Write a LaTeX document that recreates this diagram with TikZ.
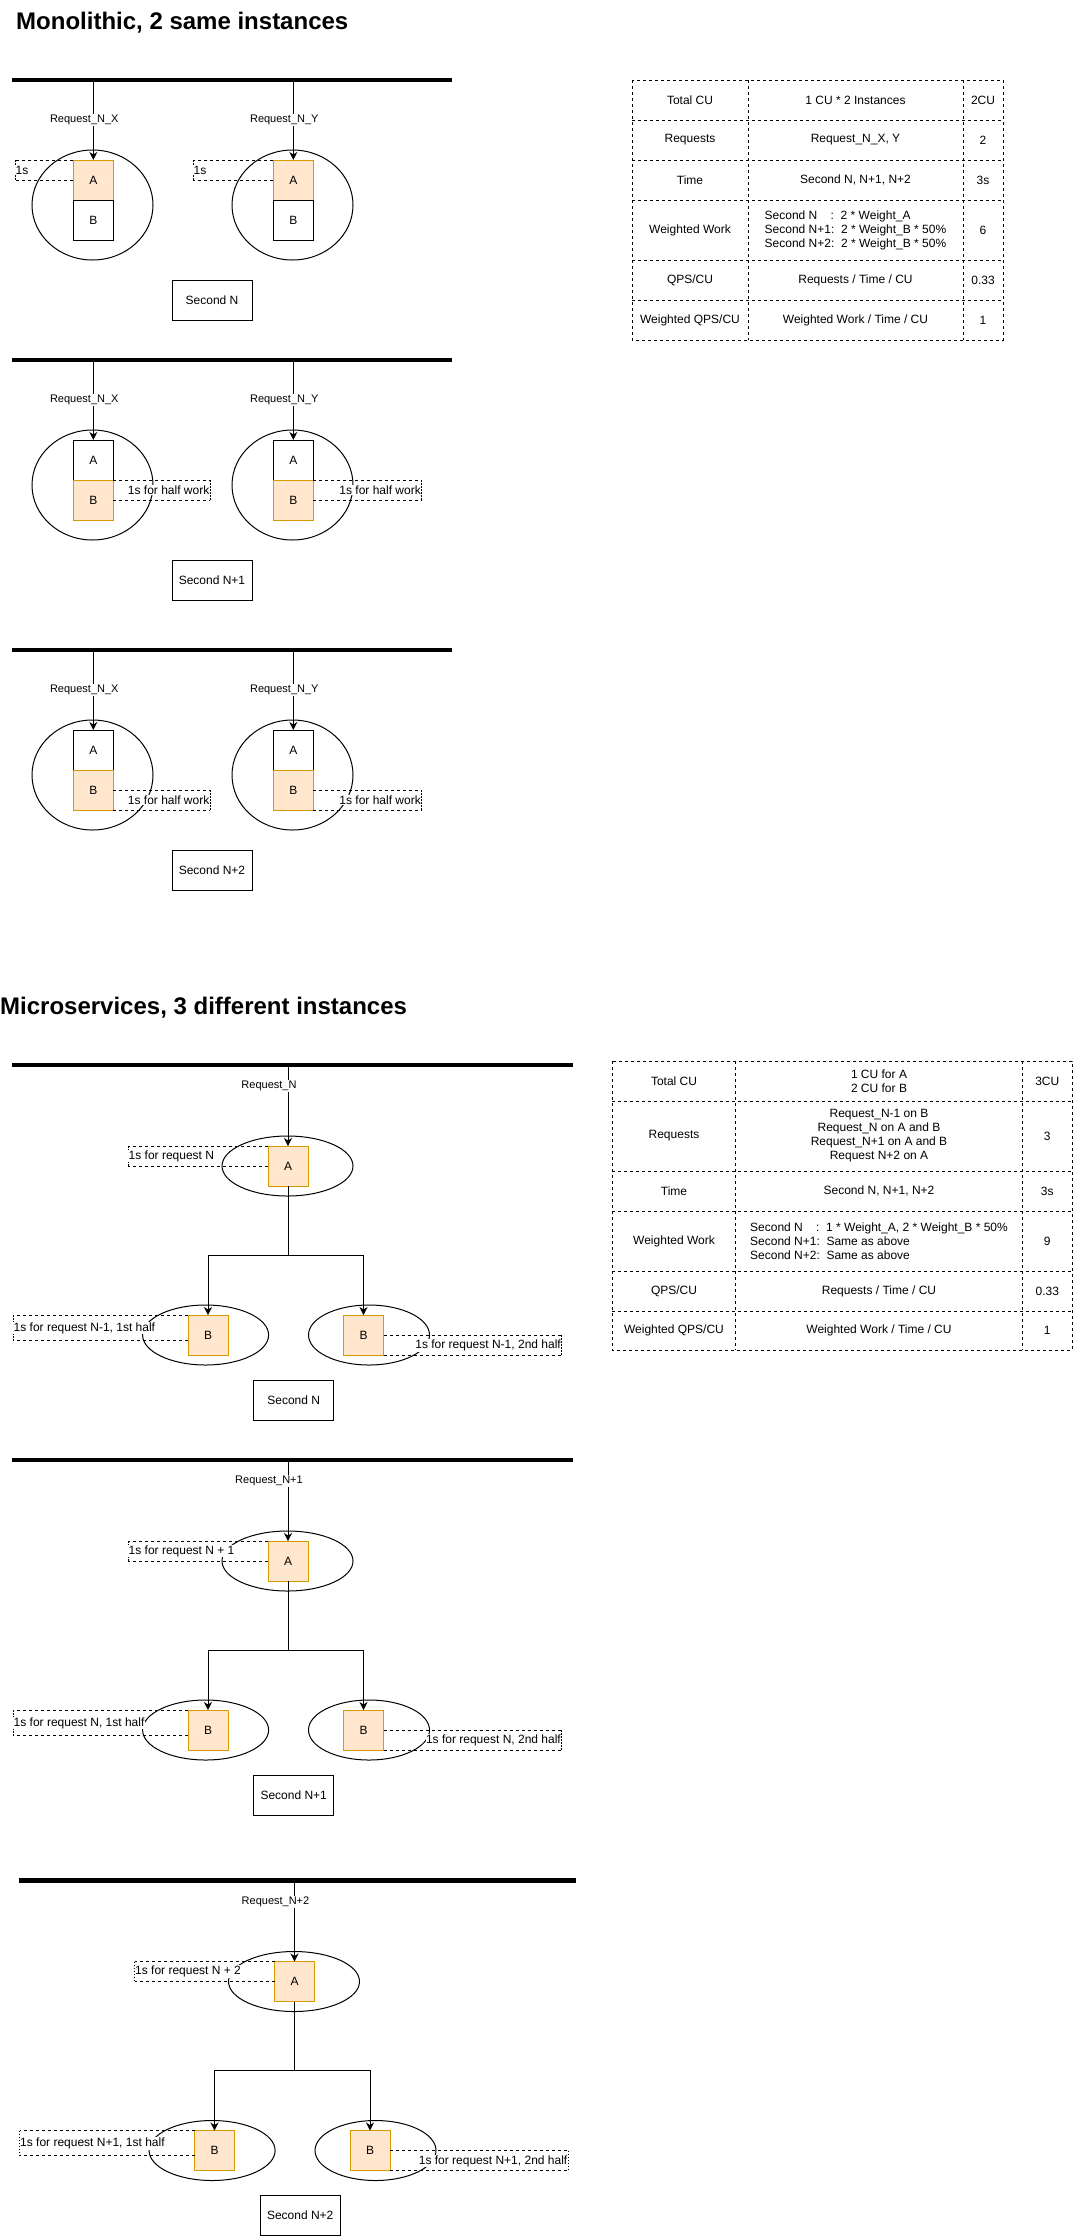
\documentclass[tikz,border=0pt]{standalone}
\usepackage{fontspec}
\setmainfont{Liberation Sans}
\usepackage{tikz}
\usetikzlibrary{arrows.meta,shapes.geometric,positioning}
\definecolor{NaranjaClaro}{RGB}{255,230,204}
\definecolor{NaranjaBorde}{RGB}{215,155,0}
\tikzset{
  bus/.style={line width=4.6pt},
  inst/.style={draw,ellipse,line width=1pt,inner sep=0pt},
  busy/.style={draw=NaranjaBorde,fill=NaranjaClaro,line width=1pt,minimum size=40pt,inner sep=0pt,outer sep=0pt},
  idle/.style={draw,fill=white,line width=1pt,minimum size=40pt,inner sep=0pt,outer sep=0pt},
  secbox/.style={draw,line width=1pt,minimum width=80pt,minimum height=40pt},
  req/.style={fill=white,inner sep=1pt,font=\fontsize{11}{13}\selectfont},
  flow/.style={->,line width=1pt},
  dimline/.style={line width=1pt,dash pattern=on 3pt off 3pt},
  dimend/.style={line width=0.6pt,dash pattern=on 1.5pt off 1.5pt},
  dimlbl/.style={fill=white,inner sep=0.5pt},
  tabline/.style={line width=1pt,dash pattern=on 3pt off 3pt},
  tabtxt/.style={align=center,inner sep=0pt},
  heading/.style={anchor=base west,inner sep=0pt,font=\fontsize{24}{28}\selectfont\bfseries}
}

\begin{document}
\begin{tikzpicture}[x=1pt,y=-1pt,>={Stealth[length=8pt,width=8pt,inset=2.5pt]},font=\fontsize{12}{14}\selectfont]
  \useasboundingbox (0,0) rectangle (1073,2236);

  \node[heading] (t1) at (16,29.5) {Monolithic, 2 same instances};

  \draw[bus] (12,80) -- (452,80);
  \coordinate (r1l) at (93.3,80);
  \coordinate (r1r) at (293.3,80);
  \node[inst,minimum width=121pt,minimum height=110pt] (e1l) at (92.5,205) {};
  \node[inst,minimum width=121pt,minimum height=110pt] (e1r) at (292.5,205) {};
  \node[busy] (a1l) at (93.3,180) {A};
  \node[idle,below=0pt of a1l] (b1l) {B};
  \node[busy] (a1r) at (293.3,180) {A};
  \node[idle,below=0pt of a1r] (b1r) {B};
  \draw[flow] (r1l) -- node[req,xshift=-9pt] (q1l) {Request\_N\_X} (a1l);
  \draw[flow] (r1r) -- node[req,xshift=-9pt] (q1r) {Request\_N\_Y} (a1r);
  \coordinate (m1l) at (15,170);
  \coordinate (m1r) at (193,170);
  \draw[dimline] (a1l.north west) -- (a1l.north west -| m1l);
  \draw[dimline] (a1l.west) -- (a1l.west -| m1l);
  \draw[dimend] (a1l.north west -| m1l) -- (a1l.west -| m1l);
  \node[dimlbl,anchor=west] (w1l) at (m1l) {1s};
  \draw[dimline] (a1r.north west) -- (a1r.north west -| m1r);
  \draw[dimline] (a1r.west) -- (a1r.west -| m1r);
  \draw[dimend] (a1r.north west -| m1r) -- (a1r.west -| m1r);
  \node[dimlbl,anchor=west] (w1r) at (m1r) {1s};
  \node[secbox] (s1) at (212,300) {Second N};

  \begin{scope}[shift={(0,280)}]
  \draw[bus] (12,80) -- (452,80);
  \coordinate (r2l) at (93.3,80);
  \coordinate (r2r) at (293.3,80);
  \node[inst,minimum width=121pt,minimum height=110pt] (e2l) at (92.5,205) {};
  \node[inst,minimum width=121pt,minimum height=110pt] (e2r) at (292.5,205) {};
  \node[idle] (a2l) at (93.3,180) {A};
  \node[busy,below=0pt of a2l] (b2l) {B};
  \node[idle] (a2r) at (293.3,180) {A};
  \node[busy,below=0pt of a2r] (b2r) {B};
  \draw[flow] (r2l) -- node[req,xshift=-9pt] (q2l) {Request\_N\_X} (a2l);
  \draw[flow] (r2r) -- node[req,xshift=-9pt] (q2r) {Request\_N\_Y} (a2r);
  \coordinate (m2l) at (210,210);
  \coordinate (m2r) at (421.5,210);
  \draw[dimline] (b2l.north east) -- (b2l.north east -| m2l);
  \draw[dimline] (b2l.east) -- (b2l.east -| m2l);
  \draw[dimend] (b2l.north east -| m2l) -- (b2l.east -| m2l);
  \node[dimlbl,anchor=east] (w2l) at (m2l) {1s for half work};
  \draw[dimline] (b2r.north east) -- (b2r.north east -| m2r);
  \draw[dimline] (b2r.east) -- (b2r.east -| m2r);
  \draw[dimend] (b2r.north east -| m2r) -- (b2r.east -| m2r);
  \node[dimlbl,anchor=east] (w2r) at (m2r) {1s for half work};
  \node[secbox] (s2) at (212,300) {Second N+1};
  \end{scope}

  \begin{scope}[shift={(0,570)}]
  \draw[bus] (12,80) -- (452,80);
  \coordinate (r3l) at (93.3,80);
  \coordinate (r3r) at (293.3,80);
  \node[inst,minimum width=121pt,minimum height=110pt] (e3l) at (92.5,205) {};
  \node[inst,minimum width=121pt,minimum height=110pt] (e3r) at (292.5,205) {};
  \node[idle] (a3l) at (93.3,180) {A};
  \node[busy,below=0pt of a3l] (b3l) {B};
  \node[idle] (a3r) at (293.3,180) {A};
  \node[busy,below=0pt of a3r] (b3r) {B};
  \draw[flow] (r3l) -- node[req,xshift=-9pt] (q3l) {Request\_N\_X} (a3l);
  \draw[flow] (r3r) -- node[req,xshift=-9pt] (q3r) {Request\_N\_Y} (a3r);
  \coordinate (m3l) at (210,230);
  \coordinate (m3r) at (421.5,230);
  \draw[dimline] (b3l.east) -- (b3l.east -| m3l);
  \draw[dimline] (b3l.south east) -- (b3l.south east -| m3l);
  \draw[dimend] (b3l.east -| m3l) -- (b3l.south east -| m3l);
  \node[dimlbl,anchor=east] (w3l) at (m3l) {1s for half work};
  \draw[dimline] (b3r.east) -- (b3r.east -| m3r);
  \draw[dimline] (b3r.south east) -- (b3r.south east -| m3r);
  \draw[dimend] (b3r.east -| m3r) -- (b3r.south east -| m3r);
  \node[dimlbl,anchor=east] (w3r) at (m3r) {1s for half work};
  \node[secbox] (s3) at (212,300) {Second N+2};
  \end{scope}

  \draw[tabline] (632,80) rectangle (1003,340);
  \draw[tabline] (748,80) -- (748,340) (963,80) -- (963,340);
  \draw[tabline] (632,120) -- (1003,120) (632,160) -- (1003,160) (632,200) -- (1003,200)
    (632,260) -- (1003,260) (632,300) -- (1003,300);
  \node[tabtxt] (k1a) at (690,100) {Total CU};
  \node[tabtxt] (k1b) at (855.5,100) {1 CU * 2 Instances};
  \node[tabtxt] (k1c) at (983,100) {2CU};
  \node[tabtxt] (k2a) at (690,140) {Requests};
  \node[tabtxt] (k2b) at (855.5,140) {Request\_N\_X, Y};
  \node[tabtxt] (k2c) at (983,140) {2};
  \node[tabtxt] (k3a) at (690,180) {Time};
  \node[tabtxt] (k3b) at (855.5,180) {Second N, N+1, N+2};
  \node[tabtxt] (k3c) at (983,180) {3s};
  \node[tabtxt] (k4a) at (690,230) {Weighted Work};
  \node[tabtxt,align=left] (k4b) at (855.5,230) {Second N\hspace{13.3pt}:\ \ 2 * Weight\_A\\Second N+1:\ \ 2 * Weight\_B * 50\%\\Second N+2:\ \ 2 * Weight\_B * 50\%};
  \node[tabtxt] (k4c) at (983,230) {6};
  \node[tabtxt] (k5a) at (690,280) {QPS/CU};
  \node[tabtxt] (k5b) at (855.5,280) {Requests / Time / CU};
  \node[tabtxt] (k5c) at (983,280) {0.33};
  \node[tabtxt] (k6a) at (690,320) {Weighted QPS/CU};
  \node[tabtxt] (k6b) at (855.5,320) {Weighted Work / Time / CU};
  \node[tabtxt] (k6c) at (983,320) {1};

  \node[heading] (t2) at (0,1014) {Microservices, 3 different instances};

  \draw[bus] (12,1065) -- (573,1065);
  \coordinate (r4) at (288,1065);
  \node[inst,minimum width=131pt,minimum height=60pt] (e4) at (287.5,1166) {};
  \node[inst,minimum width=126pt,minimum height=60pt] (e4l) at (205.6,1335) {};
  \node[inst,minimum width=121pt,minimum height=60pt] (e4r) at (369,1335) {};
  \node[busy] (a4) at (288,1166) {A};
  \node[busy] (b4l) at (208,1335) {B};
  \node[busy] (b4r) at (363.5,1335) {B};
  \coordinate (j4) at (288,1255);
  \draw[flow] (r4) -- node[req,pos=0.26,xshift=-19pt] (q4) {Request\_N} (a4);
  \draw[flow] (a4) -- (j4) -| (b4l);
  \draw[flow] (a4) -- (j4) -| (b4r);
  \coordinate (m4) at (128,1156);
  \coordinate (m4l) at (13,1328);
  \coordinate (m4r) at (561.5,1345.5);
  \draw[dimline] (a4.north west) -- (a4.north west -| m4);
  \draw[dimline] (a4.west) -- (a4.west -| m4);
  \draw[dimend] (a4.north west -| m4) -- (a4.west -| m4);
  \node[dimlbl,anchor=west] (w4) at (m4) {1s for request N};
  \draw[dimline] (b4l.north west) -- (b4l.north west -| m4l);
  \draw[dimline] ([yshift=-5pt]b4l.west) -- ([yshift=-5pt]b4l.west -| m4l);
  \draw[dimend] (b4l.north west -| m4l) -- ([yshift=-5pt]b4l.west -| m4l);
  \node[dimlbl,anchor=west] (w4l) at (m4l) {1s for request N-1, 1st half};
  \draw[dimline] (b4r.east) -- (b4r.east -| m4r);
  \draw[dimline] (b4r.south east) -- (b4r.south east -| m4r);
  \draw[dimend] (b4r.east -| m4r) -- (b4r.south east -| m4r);
  \node[dimlbl,anchor=east] (w4r) at (m4r) {1s for request N-1, 2nd half};
  \node[secbox] (s4) at (293.7,1400) {Second N};

  \begin{scope}[shift={(0,395)}]
  \draw[bus] (12,1065) -- (573,1065);
  \coordinate (r5) at (288,1065);
  \node[inst,minimum width=131pt,minimum height=60pt] (e5) at (287.5,1166) {};
  \node[inst,minimum width=126pt,minimum height=60pt] (e5l) at (205.6,1335) {};
  \node[inst,minimum width=121pt,minimum height=60pt] (e5r) at (369,1335) {};
  \node[busy] (a5) at (288,1166) {A};
  \node[busy] (b5l) at (208,1335) {B};
  \node[busy] (b5r) at (363.5,1335) {B};
  \coordinate (j5) at (288,1255);
  \draw[flow] (r5) -- node[req,pos=0.26,xshift=-19pt] (q5) {Request\_N+1} (a5);
  \draw[flow] (a5) -- (j5) -| (b5l);
  \draw[flow] (a5) -- (j5) -| (b5r);
  \coordinate (m5) at (128,1156);
  \coordinate (m5l) at (13,1328);
  \coordinate (m5r) at (561.5,1345.5);
  \draw[dimline] (a5.north west) -- (a5.north west -| m5);
  \draw[dimline] (a5.west) -- (a5.west -| m5);
  \draw[dimend] (a5.north west -| m5) -- (a5.west -| m5);
  \node[dimlbl,anchor=west] (w5) at (m5) {1s for request N + 1};
  \draw[dimline] (b5l.north west) -- (b5l.north west -| m5l);
  \draw[dimline] ([yshift=-5pt]b5l.west) -- ([yshift=-5pt]b5l.west -| m5l);
  \draw[dimend] (b5l.north west -| m5l) -- ([yshift=-5pt]b5l.west -| m5l);
  \node[dimlbl,anchor=west] (w5l) at (m5l) {1s for request N, 1st half};
  \draw[dimline] (b5r.east) -- (b5r.east -| m5r);
  \draw[dimline] (b5r.south east) -- (b5r.south east -| m5r);
  \draw[dimend] (b5r.east -| m5r) -- (b5r.south east -| m5r);
  \node[dimlbl,anchor=east] (w5r) at (m5r) {1s for request N, 2nd half};
  \node[secbox] (s5) at (293.7,1400) {Second N+1};
  \end{scope}

  \begin{scope}[shift={(6.5,815.5)}]
  \draw[bus] (12,1065) -- (569,1065);
  \coordinate (r6) at (288,1065);
  \node[inst,minimum width=131pt,minimum height=60pt] (e6) at (287.5,1166) {};
  \node[inst,minimum width=126pt,minimum height=60pt] (e6l) at (205.6,1335) {};
  \node[inst,minimum width=121pt,minimum height=60pt] (e6r) at (369,1335) {};
  \node[busy] (a6) at (288,1166) {A};
  \node[busy] (b6l) at (208,1335) {B};
  \node[busy] (b6r) at (363.5,1335) {B};
  \coordinate (j6) at (288,1255);
  \draw[flow] (r6) -- node[req,pos=0.26,xshift=-19pt] (q6) {Request\_N+2} (a6);
  \draw[flow] (a6) -- (j6) -| (b6l);
  \draw[flow] (a6) -- (j6) -| (b6r);
  \coordinate (m6) at (128,1156);
  \coordinate (m6l) at (13,1328);
  \coordinate (m6r) at (561.5,1345.5);
  \draw[dimline] (a6.north west) -- (a6.north west -| m6);
  \draw[dimline] (a6.west) -- (a6.west -| m6);
  \draw[dimend] (a6.north west -| m6) -- (a6.west -| m6);
  \node[dimlbl,anchor=west] (w6) at (m6) {1s for request N + 2};
  \draw[dimline] (b6l.north west) -- (b6l.north west -| m6l);
  \draw[dimline] ([yshift=-5pt]b6l.west) -- ([yshift=-5pt]b6l.west -| m6l);
  \draw[dimend] (b6l.north west -| m6l) -- ([yshift=-5pt]b6l.west -| m6l);
  \node[dimlbl,anchor=west] (w6l) at (m6l) {1s for request N+1, 1st half};
  \draw[dimline] (b6r.east) -- (b6r.east -| m6r);
  \draw[dimline] (b6r.south east) -- (b6r.south east -| m6r);
  \draw[dimend] (b6r.east -| m6r) -- (b6r.south east -| m6r);
  \node[dimlbl,anchor=east] (w6r) at (m6r) {1s for request N+1, 2nd half};
  \node[secbox] (s6) at (293.7,1400) {Second N+2};
  \end{scope}

  \draw[tabline] (612.3,1061) rectangle (1072.3,1350);
  \draw[tabline] (735.7,1061) -- (735.7,1350) (1022.3,1061) -- (1022.3,1350);
  \draw[tabline] (612.3,1101) -- (1072.3,1101) (612.3,1171) -- (1072.3,1171) (612.3,1211) -- (1072.3,1211)
    (612.3,1271) -- (1072.3,1271) (612.3,1311) -- (1072.3,1311);
  \node[tabtxt] (n1a) at (674,1081) {Total CU};
  \node[tabtxt] (n1b) at (879,1081) {1 CU for A\\2 CU for B};
  \node[tabtxt] (n1c) at (1047.3,1081) {3CU};
  \node[tabtxt] (n2a) at (674,1136) {Requests};
  \node[tabtxt] (n2b) at (879,1136) {Request\_N-1 on B\\Request\_N on A and B\\Request\_N+1 on A and B\\Request N+2 on A};
  \node[tabtxt] (n2c) at (1047.3,1136) {3};
  \node[tabtxt] (n3a) at (674,1191) {Time};
  \node[tabtxt] (n3b) at (879,1191) {Second N, N+1, N+2};
  \node[tabtxt] (n3c) at (1047.3,1191) {3s};
  \node[tabtxt] (n4a) at (674,1241) {Weighted Work};
  \node[tabtxt,align=left] (n4b) at (879,1241) {Second N\hspace{13.3pt}:\ \ 1 * Weight\_A, 2 * Weight\_B * 50\%\\Second N+1:\ \ Same as above\\Second N+2:\ \ Same as above};
  \node[tabtxt] (n4c) at (1047.3,1241) {9};
  \node[tabtxt] (n5a) at (674,1291) {QPS/CU};
  \node[tabtxt] (n5b) at (879,1291) {Requests / Time / CU};
  \node[tabtxt] (n5c) at (1047.3,1291) {0.33};
  \node[tabtxt] (n6a) at (674,1330.5) {Weighted QPS/CU};
  \node[tabtxt] (n6b) at (879,1330.5) {Weighted Work / Time / CU};
  \node[tabtxt] (n6c) at (1047.3,1330.5) {1};
\end{tikzpicture}
\end{document}
